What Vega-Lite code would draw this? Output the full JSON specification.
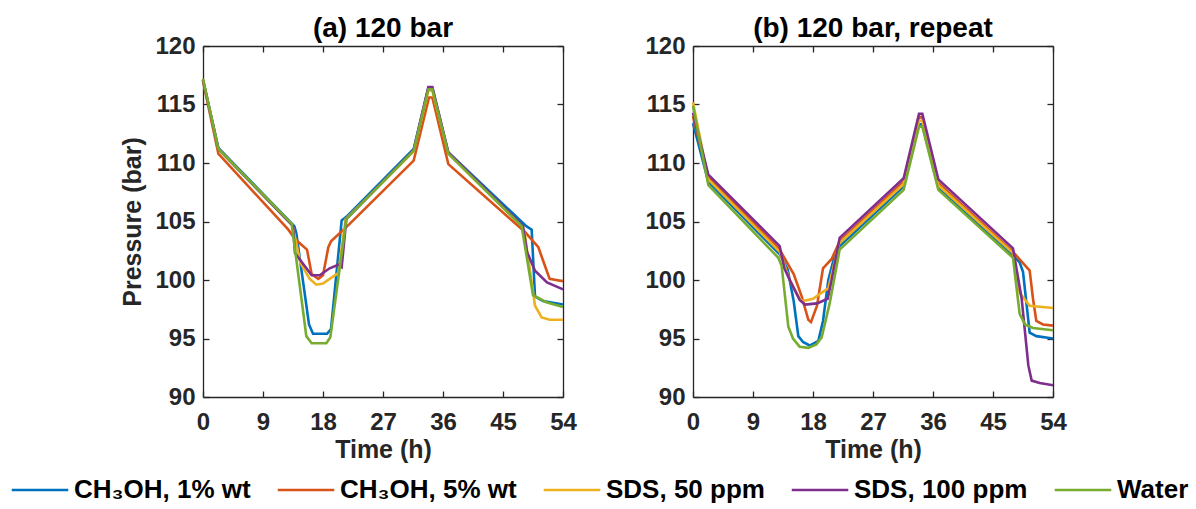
{
  "$schema": "https://vega.github.io/schema/vega-lite/v6.json",
  "background": "white",
  "padding": {"left": 10, "top": 15, "right": 0, "bottom": 0},
  "datasets": {
    "a": [
      {"s": "CH₃OH, 1% wt", "t": 0, "v": 117.1}, {"s": "CH₃OH, 1% wt", "t": 2.3, "v": 111.3}, {"s": "CH₃OH, 1% wt", "t": 13.7, "v": 104.6}, {"s": "CH₃OH, 1% wt", "t": 14.0, "v": 104.0}, {"s": "CH₃OH, 1% wt", "t": 15.9, "v": 96.2}, {"s": "CH₃OH, 1% wt", "t": 16.5, "v": 95.4}, {"s": "CH₃OH, 1% wt", "t": 18.6, "v": 95.4}, {"s": "CH₃OH, 1% wt", "t": 19.2, "v": 95.8}, {"s": "CH₃OH, 1% wt", "t": 20.8, "v": 105.1}, {"s": "CH₃OH, 1% wt", "t": 21.5, "v": 105.4}, {"s": "CH₃OH, 1% wt", "t": 31.6, "v": 111.2}, {"s": "CH₃OH, 1% wt", "t": 33.8, "v": 116.4}, {"s": "CH₃OH, 1% wt", "t": 34.4, "v": 116.4}, {"s": "CH₃OH, 1% wt", "t": 36.8, "v": 110.9}, {"s": "CH₃OH, 1% wt", "t": 48.5, "v": 104.6}, {"s": "CH₃OH, 1% wt", "t": 49.3, "v": 104.3}, {"s": "CH₃OH, 1% wt", "t": 49.8, "v": 98.6}, {"s": "CH₃OH, 1% wt", "t": 51, "v": 98.2}, {"s": "CH₃OH, 1% wt", "t": 54, "v": 97.9},
      {"s": "CH₃OH, 5% wt", "t": 0, "v": 117.0}, {"s": "CH₃OH, 5% wt", "t": 2.3, "v": 110.8}, {"s": "CH₃OH, 5% wt", "t": 12.8, "v": 104.3}, {"s": "CH₃OH, 5% wt", "t": 13.8, "v": 103.5}, {"s": "CH₃OH, 5% wt", "t": 15.6, "v": 102.6}, {"s": "CH₃OH, 5% wt", "t": 16.3, "v": 100.5}, {"s": "CH₃OH, 5% wt", "t": 17.3, "v": 100.1}, {"s": "CH₃OH, 5% wt", "t": 18.0, "v": 100.4}, {"s": "CH₃OH, 5% wt", "t": 18.8, "v": 102.8}, {"s": "CH₃OH, 5% wt", "t": 19.2, "v": 103.3}, {"s": "CH₃OH, 5% wt", "t": 22, "v": 104.8}, {"s": "CH₃OH, 5% wt", "t": 31.6, "v": 110.2}, {"s": "CH₃OH, 5% wt", "t": 33.9, "v": 115.6}, {"s": "CH₃OH, 5% wt", "t": 34.4, "v": 115.6}, {"s": "CH₃OH, 5% wt", "t": 36.8, "v": 109.9}, {"s": "CH₃OH, 5% wt", "t": 48.3, "v": 104.1}, {"s": "CH₃OH, 5% wt", "t": 50.3, "v": 102.8}, {"s": "CH₃OH, 5% wt", "t": 51.3, "v": 101.2}, {"s": "CH₃OH, 5% wt", "t": 52, "v": 100.1}, {"s": "CH₃OH, 5% wt", "t": 54, "v": 99.9},
      {"s": "SDS, 50 ppm", "t": 0, "v": 117.1}, {"s": "SDS, 50 ppm", "t": 2.3, "v": 111.2}, {"s": "SDS, 50 ppm", "t": 13.4, "v": 104.7}, {"s": "SDS, 50 ppm", "t": 14.6, "v": 101.5}, {"s": "SDS, 50 ppm", "t": 16, "v": 100.1}, {"s": "SDS, 50 ppm", "t": 17, "v": 99.6}, {"s": "SDS, 50 ppm", "t": 18, "v": 99.7}, {"s": "SDS, 50 ppm", "t": 19, "v": 100.1}, {"s": "SDS, 50 ppm", "t": 20.3, "v": 100.6}, {"s": "SDS, 50 ppm", "t": 21.4, "v": 105.2}, {"s": "SDS, 50 ppm", "t": 31.6, "v": 111.0}, {"s": "SDS, 50 ppm", "t": 33.8, "v": 116.2}, {"s": "SDS, 50 ppm", "t": 34.4, "v": 116.2}, {"s": "SDS, 50 ppm", "t": 36.8, "v": 110.8}, {"s": "SDS, 50 ppm", "t": 47.9, "v": 104.6}, {"s": "SDS, 50 ppm", "t": 48.3, "v": 103.8}, {"s": "SDS, 50 ppm", "t": 49.8, "v": 97.8}, {"s": "SDS, 50 ppm", "t": 50.8, "v": 96.8}, {"s": "SDS, 50 ppm", "t": 52, "v": 96.6}, {"s": "SDS, 50 ppm", "t": 54, "v": 96.6},
      {"s": "SDS, 100 ppm", "t": 0, "v": 117.1}, {"s": "SDS, 100 ppm", "t": 2.3, "v": 111.2}, {"s": "SDS, 100 ppm", "t": 13.5, "v": 104.6}, {"s": "SDS, 100 ppm", "t": 13.8, "v": 102.3}, {"s": "SDS, 100 ppm", "t": 16.3, "v": 100.4}, {"s": "SDS, 100 ppm", "t": 17.5, "v": 100.4}, {"s": "SDS, 100 ppm", "t": 19, "v": 101.0}, {"s": "SDS, 100 ppm", "t": 20.3, "v": 101.3}, {"s": "SDS, 100 ppm", "t": 20.8, "v": 101.1}, {"s": "SDS, 100 ppm", "t": 21.5, "v": 105.2}, {"s": "SDS, 100 ppm", "t": 31.6, "v": 111.1}, {"s": "SDS, 100 ppm", "t": 33.8, "v": 116.5}, {"s": "SDS, 100 ppm", "t": 34.4, "v": 116.5}, {"s": "SDS, 100 ppm", "t": 36.8, "v": 110.9}, {"s": "SDS, 100 ppm", "t": 48, "v": 104.6}, {"s": "SDS, 100 ppm", "t": 48.6, "v": 102.4}, {"s": "SDS, 100 ppm", "t": 49.8, "v": 100.8}, {"s": "SDS, 100 ppm", "t": 51.6, "v": 99.8}, {"s": "SDS, 100 ppm", "t": 54, "v": 99.2},
      {"s": "Water", "t": 0, "v": 117.2}, {"s": "Water", "t": 2.3, "v": 111.2}, {"s": "Water", "t": 13.3, "v": 104.8}, {"s": "Water", "t": 15.5, "v": 95.2}, {"s": "Water", "t": 16.3, "v": 94.6}, {"s": "Water", "t": 18.5, "v": 94.6}, {"s": "Water", "t": 19.1, "v": 95.1}, {"s": "Water", "t": 21.5, "v": 105.2}, {"s": "Water", "t": 31.6, "v": 111.05}, {"s": "Water", "t": 33.8, "v": 116.3}, {"s": "Water", "t": 34.4, "v": 116.3}, {"s": "Water", "t": 36.8, "v": 110.8}, {"s": "Water", "t": 47.8, "v": 104.6}, {"s": "Water", "t": 49.5, "v": 98.7}, {"s": "Water", "t": 51.5, "v": 98.1}, {"s": "Water", "t": 54, "v": 97.7}
    ],
    "b": [
      {"s": "CH₃OH, 1% wt", "t": 0, "v": 113.4}, {"s": "CH₃OH, 1% wt", "t": 2.3, "v": 108.4}, {"s": "CH₃OH, 1% wt", "t": 13, "v": 102.2}, {"s": "CH₃OH, 1% wt", "t": 14.2, "v": 100.9}, {"s": "CH₃OH, 1% wt", "t": 15.1, "v": 98.2}, {"s": "CH₃OH, 1% wt", "t": 15.8, "v": 95.2}, {"s": "CH₃OH, 1% wt", "t": 16.5, "v": 94.7}, {"s": "CH₃OH, 1% wt", "t": 17.5, "v": 94.4}, {"s": "CH₃OH, 1% wt", "t": 18.8, "v": 94.8}, {"s": "CH₃OH, 1% wt", "t": 19.5, "v": 96.5}, {"s": "CH₃OH, 1% wt", "t": 20.3, "v": 100}, {"s": "CH₃OH, 1% wt", "t": 21.3, "v": 102.2}, {"s": "CH₃OH, 1% wt", "t": 22, "v": 102.9}, {"s": "CH₃OH, 1% wt", "t": 31.6, "v": 108.0}, {"s": "CH₃OH, 1% wt", "t": 33.9, "v": 113.3}, {"s": "CH₃OH, 1% wt", "t": 34.4, "v": 113.3}, {"s": "CH₃OH, 1% wt", "t": 36.8, "v": 107.9}, {"s": "CH₃OH, 1% wt", "t": 48, "v": 102.1}, {"s": "CH₃OH, 1% wt", "t": 49, "v": 101.5}, {"s": "CH₃OH, 1% wt", "t": 49.5, "v": 100.7}, {"s": "CH₃OH, 1% wt", "t": 50.5, "v": 95.5}, {"s": "CH₃OH, 1% wt", "t": 51.5, "v": 95.2}, {"s": "CH₃OH, 1% wt", "t": 54, "v": 95.0},
      {"s": "CH₃OH, 5% wt", "t": 0, "v": 114.0}, {"s": "CH₃OH, 5% wt", "t": 2.3, "v": 108.8}, {"s": "CH₃OH, 5% wt", "t": 13, "v": 102.6}, {"s": "CH₃OH, 5% wt", "t": 15.1, "v": 100.5}, {"s": "CH₃OH, 5% wt", "t": 16.3, "v": 98.6}, {"s": "CH₃OH, 5% wt", "t": 17.3, "v": 96.6}, {"s": "CH₃OH, 5% wt", "t": 17.7, "v": 96.4}, {"s": "CH₃OH, 5% wt", "t": 18.6, "v": 97.8}, {"s": "CH₃OH, 5% wt", "t": 19.5, "v": 101}, {"s": "CH₃OH, 5% wt", "t": 20.8, "v": 101.8}, {"s": "CH₃OH, 5% wt", "t": 22, "v": 103.3}, {"s": "CH₃OH, 5% wt", "t": 31.6, "v": 108.4}, {"s": "CH₃OH, 5% wt", "t": 33.9, "v": 113.9}, {"s": "CH₃OH, 5% wt", "t": 34.4, "v": 113.9}, {"s": "CH₃OH, 5% wt", "t": 36.8, "v": 108.3}, {"s": "CH₃OH, 5% wt", "t": 48, "v": 102.4}, {"s": "CH₃OH, 5% wt", "t": 50.5, "v": 100.8}, {"s": "CH₃OH, 5% wt", "t": 51, "v": 98.4}, {"s": "CH₃OH, 5% wt", "t": 51.5, "v": 96.5}, {"s": "CH₃OH, 5% wt", "t": 52.5, "v": 96.2}, {"s": "CH₃OH, 5% wt", "t": 54, "v": 96.1},
      {"s": "SDS, 50 ppm", "t": 0, "v": 115.2}, {"s": "SDS, 50 ppm", "t": 2.3, "v": 108.6}, {"s": "SDS, 50 ppm", "t": 13, "v": 102.4}, {"s": "SDS, 50 ppm", "t": 14.5, "v": 100}, {"s": "SDS, 50 ppm", "t": 16, "v": 98.4}, {"s": "SDS, 50 ppm", "t": 16.5, "v": 98.2}, {"s": "SDS, 50 ppm", "t": 18, "v": 98.4}, {"s": "SDS, 50 ppm", "t": 20.3, "v": 99.3}, {"s": "SDS, 50 ppm", "t": 21.9, "v": 103.1}, {"s": "SDS, 50 ppm", "t": 31.6, "v": 108.2}, {"s": "SDS, 50 ppm", "t": 33.9, "v": 113.6}, {"s": "SDS, 50 ppm", "t": 34.4, "v": 113.6}, {"s": "SDS, 50 ppm", "t": 36.8, "v": 108.1}, {"s": "SDS, 50 ppm", "t": 48, "v": 102.3}, {"s": "SDS, 50 ppm", "t": 49, "v": 98.9}, {"s": "SDS, 50 ppm", "t": 50.5, "v": 97.8}, {"s": "SDS, 50 ppm", "t": 54, "v": 97.6},
      {"s": "SDS, 100 ppm", "t": 0, "v": 114.3}, {"s": "SDS, 100 ppm", "t": 2.3, "v": 109.0}, {"s": "SDS, 100 ppm", "t": 13, "v": 102.9}, {"s": "SDS, 100 ppm", "t": 13.7, "v": 101}, {"s": "SDS, 100 ppm", "t": 14.6, "v": 99.9}, {"s": "SDS, 100 ppm", "t": 16, "v": 98.3}, {"s": "SDS, 100 ppm", "t": 16.8, "v": 97.9}, {"s": "SDS, 100 ppm", "t": 18.6, "v": 98.0}, {"s": "SDS, 100 ppm", "t": 20.2, "v": 98.4}, {"s": "SDS, 100 ppm", "t": 20.8, "v": 100}, {"s": "SDS, 100 ppm", "t": 22, "v": 103.6}, {"s": "SDS, 100 ppm", "t": 31.6, "v": 108.7}, {"s": "SDS, 100 ppm", "t": 33.9, "v": 114.2}, {"s": "SDS, 100 ppm", "t": 34.4, "v": 114.2}, {"s": "SDS, 100 ppm", "t": 36.8, "v": 108.6}, {"s": "SDS, 100 ppm", "t": 48, "v": 102.7}, {"s": "SDS, 100 ppm", "t": 49.3, "v": 98.4}, {"s": "SDS, 100 ppm", "t": 50.3, "v": 92.7}, {"s": "SDS, 100 ppm", "t": 50.8, "v": 91.4}, {"s": "SDS, 100 ppm", "t": 52, "v": 91.2}, {"s": "SDS, 100 ppm", "t": 54, "v": 91.0},
      {"s": "Water", "t": 0, "v": 114.9}, {"s": "Water", "t": 2.3, "v": 108.1}, {"s": "Water", "t": 12.8, "v": 101.9}, {"s": "Water", "t": 13.3, "v": 101.2}, {"s": "Water", "t": 14.3, "v": 96}, {"s": "Water", "t": 15, "v": 95}, {"s": "Water", "t": 16, "v": 94.3}, {"s": "Water", "t": 17.3, "v": 94.2}, {"s": "Water", "t": 18.5, "v": 94.5}, {"s": "Water", "t": 19.3, "v": 95.1}, {"s": "Water", "t": 20.5, "v": 98}, {"s": "Water", "t": 22, "v": 102.6}, {"s": "Water", "t": 31.6, "v": 107.7}, {"s": "Water", "t": 33.9, "v": 113.1}, {"s": "Water", "t": 34.4, "v": 113.1}, {"s": "Water", "t": 36.8, "v": 107.7}, {"s": "Water", "t": 48, "v": 101.9}, {"s": "Water", "t": 49, "v": 97.1}, {"s": "Water", "t": 49.8, "v": 96.2}, {"s": "Water", "t": 51, "v": 95.9}, {"s": "Water", "t": 54, "v": 95.7}
    ]
  },
  "spacing": 67,
  "hconcat": [
    {
      "width": 360, "height": 351,
      "title": {"text": "(a) 120 bar"},
      "data": {"name": "a"},
      "layer": [
        {
          "mark": {"type": "line", "strokeWidth": 2.6},
          "encoding": {
            "x": {"field": "t", "type": "quantitative", "scale": {"domain": [0, 54], "nice": false, "zero": false}, "axis": {"values": [0, 9, 18, 27, 36, 45, 54], "title": "Time (h)"}},
            "y": {"field": "v", "type": "quantitative", "scale": {"domain": [90, 120], "nice": false, "zero": false}, "axis": {"values": [90, 95, 100, 105, 110, 115, 120], "title": "Pressure (bar)"}},
            "color": {"field": "s", "type": "nominal", "sort": null,
              "scale": {"domain": ["CH₃OH, 1% wt", "CH₃OH, 5% wt", "SDS, 50 ppm", "SDS, 100 ppm", "Water"], "range": ["#0072BD", "#D95319", "#EDB120", "#7E2F8E", "#77AC30"]},
              "legend": {"title": null, "orient": "none", "direction": "horizontal", "legendX": -193, "legendY": 414}}
          }
        },
        {
          "mark": {"type": "point", "opacity": 0},
          "encoding": {
            "x": {"field": "t", "type": "quantitative", "scale": {"domain": [0, 54], "nice": false, "zero": false}, "axis": {"orient": "top", "values": [0, 9, 18, 27, 36, 45, 54], "labels": false, "title": null}},
            "y": {"field": "v", "type": "quantitative", "scale": {"domain": [90, 120], "nice": false, "zero": false}, "axis": {"orient": "right", "values": [90, 95, 100, 105, 110, 115, 120], "labels": false, "title": null}}
          }
        }
      ],
      "resolve": {"axis": {"x": "independent", "y": "independent"}}
    },
    {
      "width": 360, "height": 351,
      "title": {"text": "(b) 120 bar, repeat"},
      "data": {"name": "b"},
      "layer": [
        {
          "mark": {"type": "line", "strokeWidth": 2.6},
          "encoding": {
            "x": {"field": "t", "type": "quantitative", "scale": {"domain": [0, 54], "nice": false, "zero": false}, "axis": {"values": [0, 9, 18, 27, 36, 45, 54], "title": "Time (h)"}},
            "y": {"field": "v", "type": "quantitative", "scale": {"domain": [90, 120], "nice": false, "zero": false}, "axis": {"values": [90, 95, 100, 105, 110, 115, 120], "title": null}},
            "color": {"field": "s", "type": "nominal", "sort": null,
              "scale": {"domain": ["CH₃OH, 1% wt", "CH₃OH, 5% wt", "SDS, 50 ppm", "SDS, 100 ppm", "Water"], "range": ["#0072BD", "#D95319", "#EDB120", "#7E2F8E", "#77AC30"]}}
          }
        },
        {
          "mark": {"type": "point", "opacity": 0},
          "encoding": {
            "x": {"field": "t", "type": "quantitative", "scale": {"domain": [0, 54], "nice": false, "zero": false}, "axis": {"orient": "top", "values": [0, 9, 18, 27, 36, 45, 54], "labels": false, "title": null}},
            "y": {"field": "v", "type": "quantitative", "scale": {"domain": [90, 120], "nice": false, "zero": false}, "axis": {"orient": "right", "values": [90, 95, 100, 105, 110, 115, 120], "labels": false, "title": null}}
          }
        }
      ],
      "resolve": {"axis": {"x": "independent", "y": "independent"}}
    }
  ],
  "config": {
    "font": "Liberation Sans",
    "view": {"stroke": null},
    "axis": {"grid": false, "labelFlush": false, "domainColor": "#262626", "domainWidth": 1.3, "tickColor": "#262626", "tickWidth": 1.3, "tickSize": -6,
      "labelFont": "Liberation Sans", "labelFontWeight": "bold", "labelFontSize": 24, "labelColor": "#262626",
      "titleFont": "Liberation Sans", "titleFontWeight": "bold", "titleColor": "#262626"},
    "axisX": {"labelPadding": 19, "titlePadding": 3, "titleFontSize": 25},
    "axisY": {"labelPadding": 14, "titlePadding": 9, "titleFontSize": 25},
    "title": {"font": "Liberation Sans", "fontWeight": "bold", "fontSize": 28, "color": "#000000", "offset": -9},
    "legend": {"symbolType": "stroke", "symbolSize": 3200, "symbolStrokeWidth": 2.5, "labelFont": "Liberation Sans", "labelFontWeight": "bold", "labelFontSize": 26, "labelColor": "#000000", "labelOffset": 4, "columnPadding": 21, "labelLimit": 400}
  }
}
